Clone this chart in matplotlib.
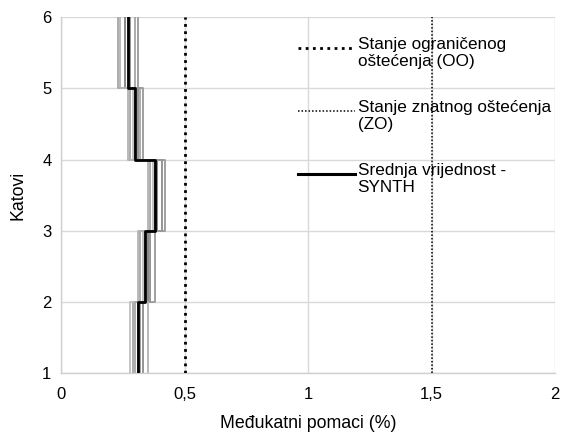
import numpy as np
import matplotlib
matplotlib.use("Agg")
import matplotlib.pyplot as plt
from matplotlib.lines import Line2D
from matplotlib.ticker import FixedLocator, FixedFormatter

plt.rcParams['font.family'] = ['Liberation Sans', 'DejaVu Sans']

# Storey levels (floor boundaries)
levels = [1, 2, 3, 4, 5, 6]

# Interstorey drifts (%) per storey 1..5 for each synthetic record
records = [
    [0.29, 0.32, 0.36, 0.28, 0.23],
    [0.31, 0.35, 0.39, 0.30, 0.26],
    [0.28, 0.33, 0.37, 0.29, 0.27],
    [0.33, 0.36, 0.41, 0.31, 0.28],
    [0.30, 0.34, 0.38, 0.32, 0.30],
    [0.32, 0.38, 0.42, 0.33, 0.31],
    [0.35, 0.31, 0.35, 0.27, 0.24],
]
record_colors = ['#a6a6a6', '#7f7f7f', '#bfbfbf', '#8c8c8c', '#a6a6a6', '#999999', '#b3b3b3']

# Mean drift per storey
mean_drift = [0.31, 0.34, 0.38, 0.30, 0.27]

# Limit states (%)
limit_oo = 0.5
limit_zo = 1.5

x_ticks = [0, 0.5, 1, 1.5, 2]
x_tick_labels = ['0', '0,5', '1', '1,5', '2']
y_ticks = [1, 2, 3, 4, 5, 6]

legend_labels = ['Stanje ograničenog\noštećenja (OO)',
                 'Stanje znatnog oštećenja\n(ZO)',
                 'Srednja vrijednost -\nSYNTH']

oo_style = dict(color='black', lw=2.0, ls=(0, (1, 1.6)))
zo_style = dict(color='black', lw=1.1, ls=(0, (1, 1.3)))
mean_style = dict(color='black', lw=2.2, ls='-')


def step_profile(values):
    xs = np.repeat(values, 2)
    ys = []
    for i in range(len(values)):
        ys += [levels[i], levels[i + 1]]
    return xs, np.array(ys)


fig = plt.figure(figsize=(5.66, 4.37), dpi=100)
ax = fig.add_axes([0.108, 0.146, 0.873, 0.815])

for vals, c in zip(records, record_colors):
    xs, ys = step_profile(vals)
    ax.plot(xs, ys, color=c, lw=1.3, zorder=2)

xs, ys = step_profile(mean_drift)
ax.plot(xs, ys, zorder=3, color='black', lw=2.0)

ax.axvline(limit_oo, zorder=3, **oo_style)
ax.axvline(limit_zo, zorder=3, **zo_style)

ax.set_xlim(0, 2)
ax.set_ylim(1, 6)
ax.xaxis.set_major_locator(FixedLocator(x_ticks))
ax.xaxis.set_major_formatter(FixedFormatter(x_tick_labels))
ax.set_yticks(y_ticks)
ax.tick_params(length=0, labelsize=12, colors='#000000')
ax.tick_params(axis='x', pad=10)
ax.tick_params(axis='y', pad=7)
ax.grid(True, color='#d9d9d9', lw=1.0, zorder=0)
ax.set_axisbelow(True)
for s in ['top', 'right']:
    ax.spines[s].set_visible(False)
for s in ['left', 'bottom']:
    ax.spines[s].set_color('#d0d0d0')
    ax.spines[s].set_linewidth(1.0)

ax.set_xlabel('Međukatni pomaci (%)', fontsize=12.8, labelpad=9)
ax.set_ylabel('Katovi', fontsize=12.8, labelpad=11)

# Legend entries: handle aligned with the first text line
entry_y = [0.913, 0.737, 0.560]
for y, lab, st in zip(entry_y, legend_labels, [oo_style, zo_style, mean_style]):
    ax.add_line(Line2D([0.480, 0.595], [y, y], transform=ax.transAxes,
                       clip_on=False, zorder=4, **st))
    ax.text(0.600, y + 0.030, lab, transform=ax.transAxes, ha='left', va='top',
            fontsize=12.3, linespacing=1.15, zorder=4)

fig.savefig('out.png', dpi=100)
